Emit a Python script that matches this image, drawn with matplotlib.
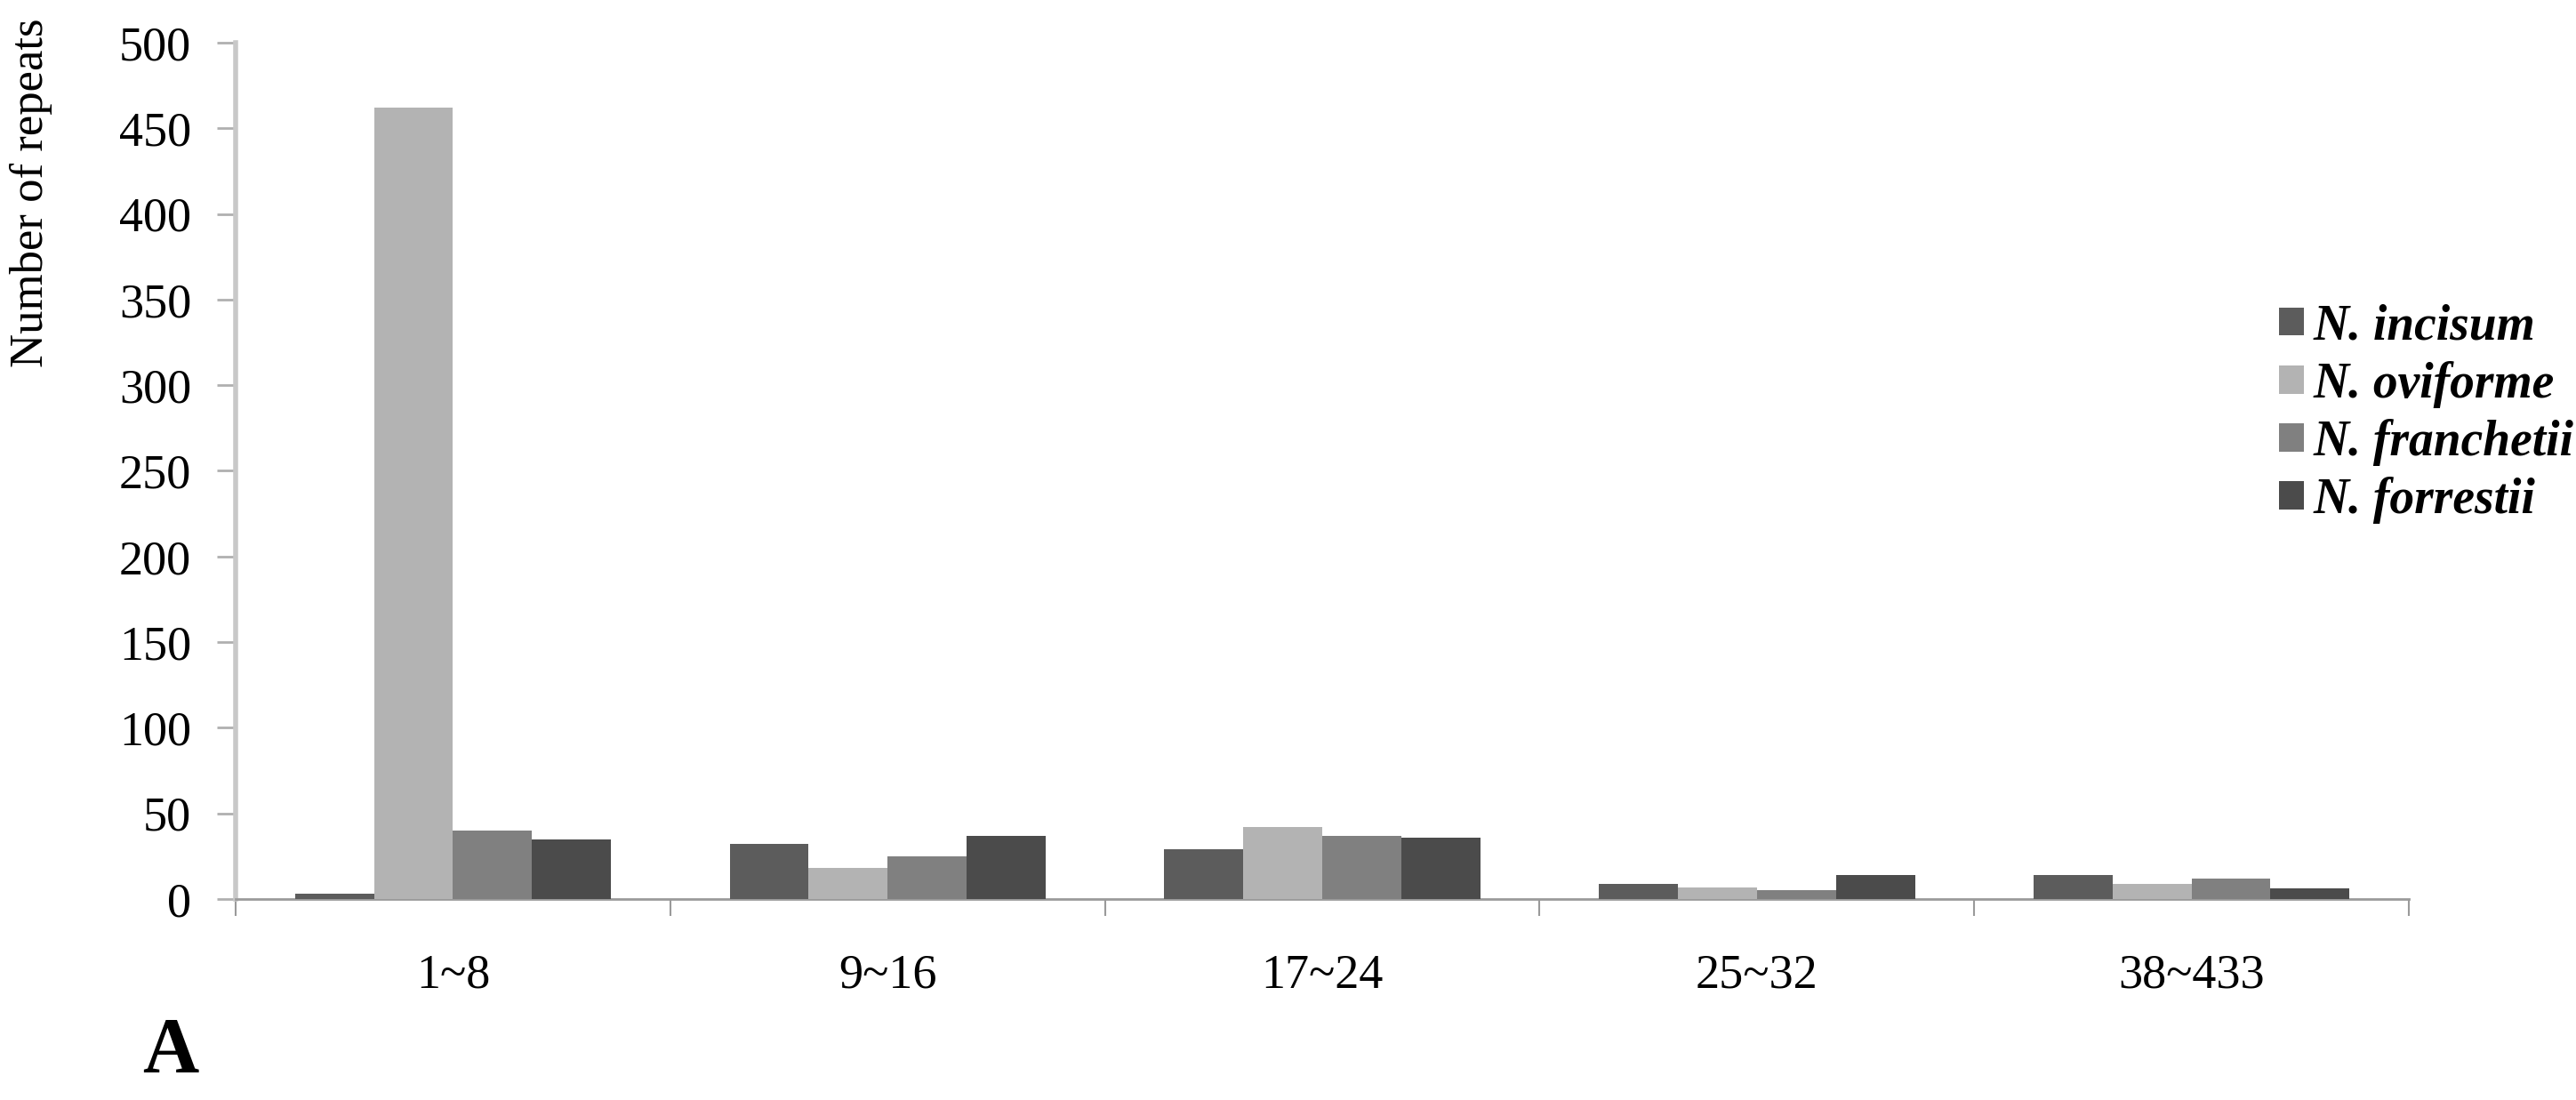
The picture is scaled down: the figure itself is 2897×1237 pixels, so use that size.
import matplotlib
matplotlib.use("Agg")
import matplotlib.pyplot as plt
import numpy as np

# repeat-length classes and number of repeats per species
categories = ["1~8", "9~16", "17~24", "25~32", "38~433"]
species = ["N. incisum", "N. oviforme", "N. franchetii", "N. forrestii"]
incisum = [3, 32, 29, 9, 14]
oviforme = [462, 18, 42, 7, 9]
franchetii = [40, 25, 37, 5, 12]
forrestii = [35, 37, 36, 14, 6]
yticks = [0, 50, 100, 150, 200, 250, 300, 350, 400, 450, 500]

series = [incisum, oviforme, franchetii, forrestii]
colors = ["#5c5c5c", "#b3b3b3", "#808080", "#4b4b4b"]

plt.rcParams["font.family"] = ["Liberation Serif", "DejaVu Serif"]

fig = plt.figure(figsize=(28.97, 12.37), dpi=100)
ax = fig.add_axes([0.0915, 0.1827, 0.8436, 0.7785])

n = len(categories)
ns = len(series)
bw = 1 / (ns + 1.5)  # Excel-like 150% gap width
x = np.arange(n)
for k, (vals, c, lab) in enumerate(zip(series, colors, species)):
    off = (k - (ns - 1) / 2) * bw
    ax.bar(x + off, vals, width=bw, color=c, label=lab, linewidth=0, zorder=3)

ax.set_xlim(-0.5, n - 0.5)
ax.set_ylim(0, 500)
ax.set_yticks(yticks)
ax.set_yticklabels([str(v) for v in yticks], fontsize=39)
ax.tick_params(axis="y", length=15, width=2, color="#b0b0b0", pad=21)

ax.set_xticks(x)
ax.set_xticklabels(categories, fontsize=39)
ax.tick_params(axis="x", which="major", length=0, pad=44)
ax.set_xticks(np.arange(n + 1) - 0.5, minor=True)
ax.tick_params(axis="x", which="minor", length=14, width=1.5, color="#9a9a9a")

for s in ("top", "right"):
    ax.spines[s].set_visible(False)
ax.spines["left"].set_color("#c8c8c8")
ax.spines["left"].set_linewidth(4)
ax.spines["bottom"].set_color("#9a9a9a")
ax.spines["bottom"].set_linewidth(2)

# legend sits inside the right part of the plot area, in figure coords
leg = ax.legend(loc="upper left", bbox_to_anchor=(0.877, 0.742),
                bbox_transform=fig.transFigure,
                frameon=False, handlelength=0.5, handleheight=0.5,
                handletextpad=0.2, labelspacing=0.22, borderaxespad=0,
                prop={"size": 40, "style": "italic", "weight": "bold"})

fig.text(35 / 2897, 1 - 217 / 1237, "Number of repeats", rotation=90,
         ha="center", va="center", fontsize=38)
fig.text(192 / 2897, 1 - 1184 / 1237, "A", ha="center", va="center",
         fontsize=63, fontweight="bold")

fig.savefig("out.png", dpi=100)
